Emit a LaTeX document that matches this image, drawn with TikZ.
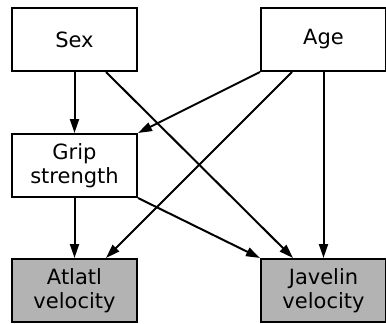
\documentclass[tikz,border=0pt]{standalone}
\usepackage{fontspec}
\setmainfont{DejaVu Sans}
\usetikzlibrary{arrows.meta}
\definecolor{boxgray}{RGB}{179,179,179}
\tikzset{
  box/.style={draw=black, line width=2pt, minimum width=125pt, minimum height=63pt,
    inner sep=0pt, align=center, font=\fontsize{21}{24.5}\selectfont},
  outbox/.style={box, fill=boxgray},
  conn/.style={line width=2pt, -{Triangle[length=14pt,width=9pt]}}
}
\begin{document}
\begin{tikzpicture}[x=1pt,y=-1pt]
\useasboundingbox (0,0) rectangle (386,324);
\node[box] (sex) at (74.5,39.5) {Sex};
\node[box] (age) at (323.5,39.5) {Age};
\node[box] (grip) at (74.5,165.5) {Grip\\strength};
\node[outbox] (atl) at (74.5,290.5) {Atlatl\\velocity};
\node[outbox] (jav) at (323.5,290.5) {Javelin\\velocity};
\draw[conn] (sex.south) -- (grip.north);
\draw[conn] ([xshift=31.5pt]sex.south) -- ([xshift=-30.5pt]jav.north);
\draw[conn] (age.south west) -- (grip.north east);
\draw[conn] ([xshift=-31.5pt]age.south) -- ([xshift=31.5pt]atl.north);
\draw[conn] (age.south) -- (jav.north);
\draw[conn] (grip.south) -- (atl.north);
\draw[conn] (grip.south east) -- (jav.north west);
\end{tikzpicture}
\end{document}
